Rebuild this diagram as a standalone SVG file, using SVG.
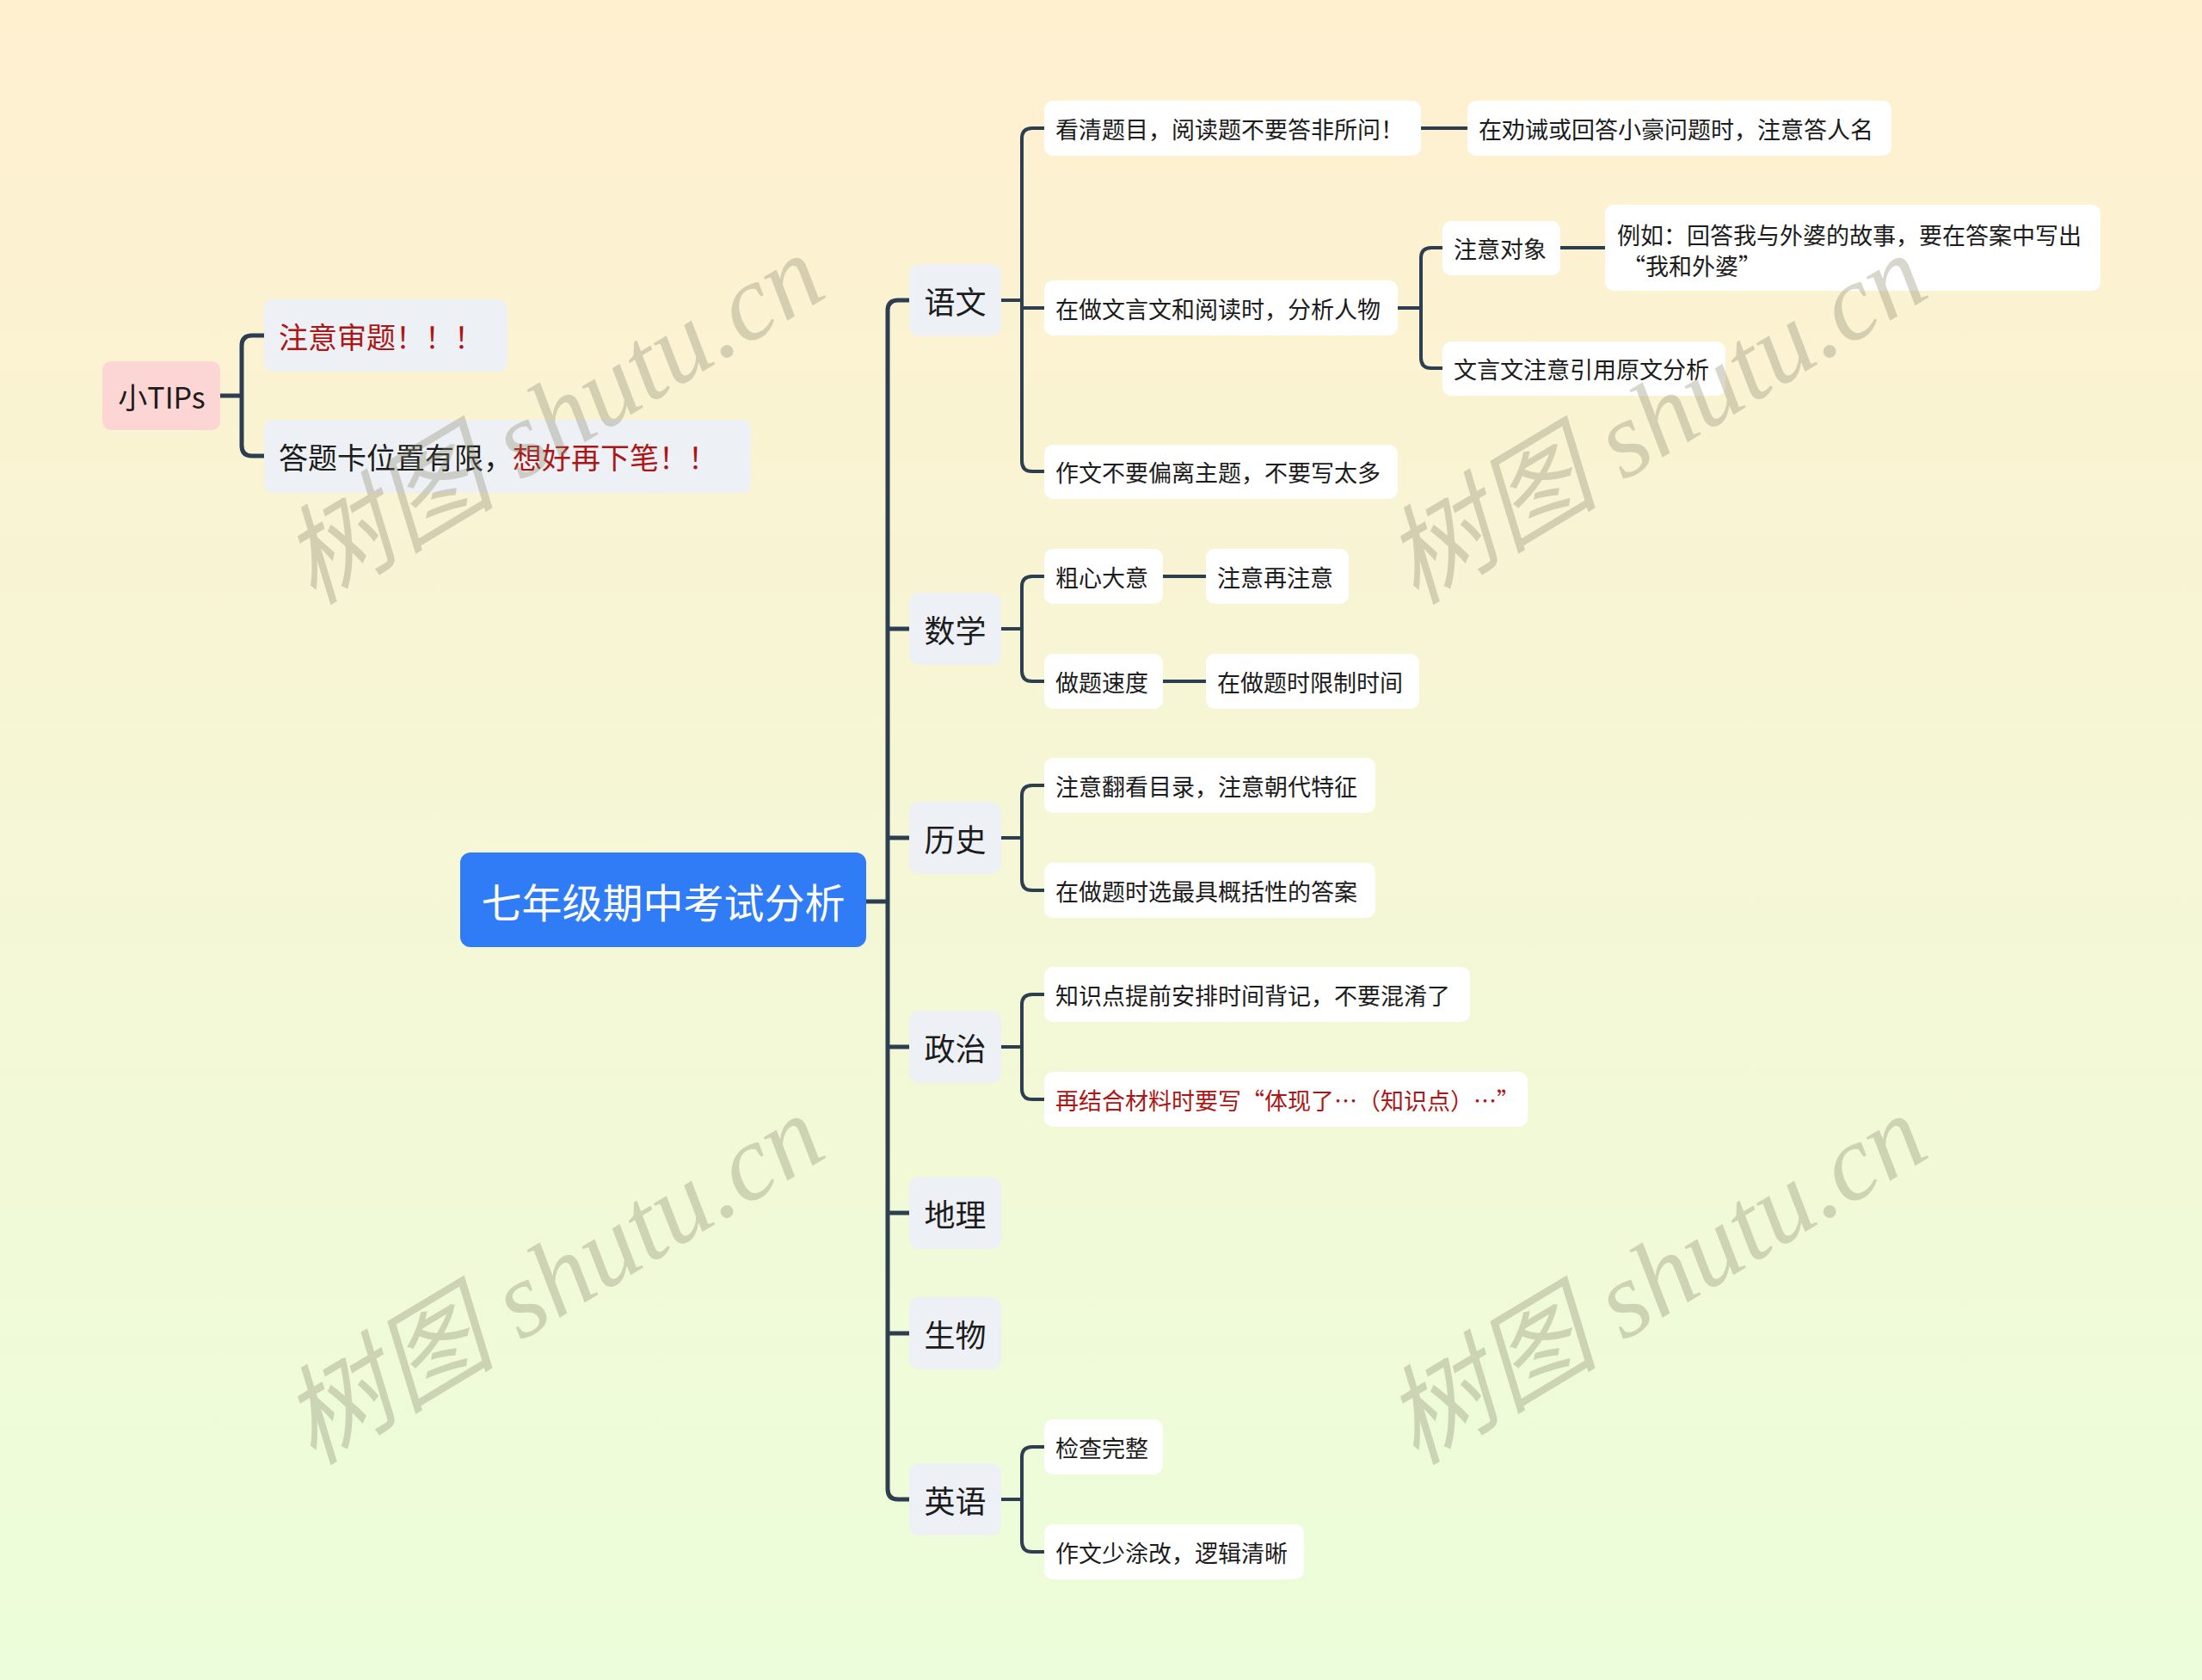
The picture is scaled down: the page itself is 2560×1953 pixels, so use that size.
<svg xmlns="http://www.w3.org/2000/svg" width="2560" height="1953" viewBox="0 0 2560 1953">
<defs>
<linearGradient id="bg" x1="0" y1="0" x2="0" y2="1">
<stop offset="0" stop-color="#fff0d0"/>
<stop offset="1" stop-color="#ebfdda"/>
</linearGradient>
<style>
text{font-family:"Noto Sans CJK SC","Noto Sans",sans-serif;dominant-baseline:central;fill:#1c1c1c}
.root{fill:#2f7cf6}
.rootT{fill:#ffffff;font-size:47px;text-anchor:middle}
.tip{fill:#fcd5d5}
.gray{fill:#edf0f4}
.white{fill:#ffffff}
.l1T{font-size:36px;text-anchor:middle}
.tipT{font-size:34px}
.l2T{font-size:27px}
.red{fill:#ad1616}
.line{fill:none;stroke:#2c3e50;stroke-width:4;stroke-linecap:butt;stroke-linejoin:round}
.thick{stroke-width:5}
.wm{font-family:"Liberation Serif","Noto Sans CJK SC",serif;font-style:italic;font-size:125px;fill:#85856a;fill-opacity:0.33;dominant-baseline:alphabetic}
</style>
</defs>
<rect x="0" y="0" width="2560" height="1953" fill="url(#bg)"/>

<g id="connectors">
<path class="line thick" d="M256,460 H281 M307,390 H293 Q281,390 281,402 V518 Q281,530 293,530 H307"/>
<path class="line thick" d="M1007,1048 H1032"/>
<path class="line thick" d="M1057,349 H1044 Q1032,349 1032,361 V1731 Q1032,1743 1044,1743 H1057 M1032,731 H1057 M1032,974 H1057 M1032,1217 H1057 M1032,1410 H1057 M1032,1550 H1057"/>
<path class="line" d="M1164,349 H1188 M1214,149 H1200 Q1188,149 1188,161 V536 Q1188,548 1200,548 H1214 M1188,358 H1214"/>
<path class="line" d="M1652,149 H1706"/>
<path class="line" d="M1625,358 H1652 M1677,288 H1664 Q1652,288 1652,300 V416 Q1652,428 1664,428 H1677"/>
<path class="line" d="M1814,288 H1866"/>
<path class="line" d="M1164,731 H1188 M1214,670 H1200 Q1188,670 1188,682 V780 Q1188,792 1200,792 H1214"/>
<path class="line" d="M1352,670 H1402 M1352,792 H1402"/>
<path class="line" d="M1164,974 H1188 M1214,913 H1200 Q1188,913 1188,925 V1023 Q1188,1035 1200,1035 H1214"/>
<path class="line" d="M1164,1217 H1188 M1214,1156 H1200 Q1188,1156 1188,1168 V1266 Q1188,1278 1200,1278 H1214"/>
<path class="line" d="M1164,1743 H1188 M1214,1682 H1200 Q1188,1682 1188,1694 V1792 Q1188,1804 1200,1804 H1214"/>
</g>

<g id="root">
<rect class="root" x="535" y="991" width="472" height="110" rx="12"/>
<text class="rootT" x="771" y="1046">七年级期中考试分析</text>
</g>

<g id="tips">
<rect class="tip" x="119" y="420" width="137" height="80" rx="10"/>
<text class="tipT" x="188" y="460" text-anchor="middle">小TIPs</text>
</g>
<g id="tip1">
<rect class="gray" x="307" y="348" width="283" height="84" rx="10"/>
<text class="tipT red" x="324" y="390">注意审题！！！</text>
</g>
<g id="tip2">
<rect class="gray" x="307" y="488" width="566" height="85" rx="10"/>
<text class="tipT" x="324" y="530">答题卡位置有限，<tspan class="red">想好再下笔！！</tspan></text>
</g>

<g id="yuwen">
<rect class="gray" x="1057" y="307" width="107" height="84" rx="12"/>
<text class="l1T" x="1110.5" y="349">语文</text>
</g>
<g id="shuxue">
<rect class="gray" x="1057" y="689" width="107" height="84" rx="12"/>
<text class="l1T" x="1110.5" y="731">数学</text>
</g>
<g id="lishi">
<rect class="gray" x="1057" y="932" width="107" height="84" rx="12"/>
<text class="l1T" x="1110.5" y="974">历史</text>
</g>
<g id="zhengzhi">
<rect class="gray" x="1057" y="1175" width="107" height="84" rx="12"/>
<text class="l1T" x="1110.5" y="1217">政治</text>
</g>
<g id="dili">
<rect class="gray" x="1057" y="1368" width="107" height="84" rx="12"/>
<text class="l1T" x="1110.5" y="1410">地理</text>
</g>
<g id="shengwu">
<rect class="gray" x="1057" y="1508" width="107" height="84" rx="12"/>
<text class="l1T" x="1110.5" y="1550">生物</text>
</g>
<g id="yingyu">
<rect class="gray" x="1057" y="1701" width="107" height="84" rx="12"/>
<text class="l1T" x="1110.5" y="1743">英语</text>
</g>

<g id="yw1">
<rect class="white" x="1214" y="117" width="438" height="64" rx="10"/>
<text class="l2T" x="1227" y="149">看清题目，阅读题不要答非所问！</text>
</g>
<g id="yw1a">
<rect class="white" x="1706" y="117" width="493" height="64" rx="10"/>
<text class="l2T" x="1719" y="149">在劝诫或回答小豪问题时，注意答人名</text>
</g>
<g id="yw2">
<rect class="white" x="1214" y="326" width="411" height="64" rx="10"/>
<text class="l2T" x="1227" y="358">在做文言文和阅读时，分析人物</text>
</g>
<g id="yw2a">
<rect class="white" x="1677" y="257" width="137" height="63" rx="10"/>
<text class="l2T" x="1690" y="288">注意对象</text>
</g>
<g id="yw2a1">
<rect class="white" x="1866" y="238" width="576" height="100" rx="10"/>
<text class="l2T" x="1880" y="272">例如：回答我与外婆的故事，要在答案中写出</text>
<text class="l2T" x="1886" y="308">“我和外婆”</text>
</g>
<g id="yw2b">
<rect class="white" x="1677" y="397" width="329" height="63" rx="10"/>
<text class="l2T" x="1690" y="428">文言文注意引用原文分析</text>
</g>
<g id="yw3">
<rect class="white" x="1214" y="517" width="411" height="63" rx="10"/>
<text class="l2T" x="1227" y="548">作文不要偏离主题，不要写太多</text>
</g>

<g id="sx1">
<rect class="white" x="1214" y="638" width="138" height="64" rx="10"/>
<text class="l2T" x="1227" y="670">粗心大意</text>
</g>
<g id="sx1a">
<rect class="white" x="1402" y="638" width="166" height="64" rx="10"/>
<text class="l2T" x="1415" y="670">注意再注意</text>
</g>
<g id="sx2">
<rect class="white" x="1214" y="760" width="138" height="64" rx="10"/>
<text class="l2T" x="1227" y="792">做题速度</text>
</g>
<g id="sx2a">
<rect class="white" x="1402" y="760" width="248" height="64" rx="10"/>
<text class="l2T" x="1415" y="792">在做题时限制时间</text>
</g>

<g id="ls1">
<rect class="white" x="1214" y="881" width="385" height="64" rx="10"/>
<text class="l2T" x="1227" y="913">注意翻看目录，注意朝代特征</text>
</g>
<g id="ls2">
<rect class="white" x="1214" y="1003" width="385" height="64" rx="10"/>
<text class="l2T" x="1227" y="1035">在做题时选最具概括性的答案</text>
</g>

<g id="zz1">
<rect class="white" x="1214" y="1124" width="495" height="64" rx="10"/>
<text class="l2T" x="1227" y="1156">知识点提前安排时间背记，不要混淆了</text>
</g>
<g id="zz2">
<rect class="white" x="1214" y="1246" width="562" height="64" rx="10"/>
<text class="l2T red" x="1227" y="1278">再结合材料时要写“体现了…（知识点）…”</text>
</g>

<g id="yy1">
<rect class="white" x="1214" y="1650" width="138" height="64" rx="10"/>
<text class="l2T" x="1227" y="1682">检查完整</text>
</g>
<g id="yy2">
<rect class="white" x="1214" y="1772" width="302" height="64" rx="10"/>
<text class="l2T" x="1227" y="1804">作文少涂改，逻辑清晰</text>
</g>

<g id="watermarks">
<text class="wm" x="364" y="704" transform="rotate(-31 364 704)">树图 shutu.cn</text>
<text class="wm" x="1646" y="704" transform="rotate(-31 1646 704)">树图 shutu.cn</text>
<text class="wm" x="364" y="1704" transform="rotate(-31 364 1704)">树图 shutu.cn</text>
<text class="wm" x="1646" y="1704" transform="rotate(-31 1646 1704)">树图 shutu.cn</text>
</g>
</svg>
